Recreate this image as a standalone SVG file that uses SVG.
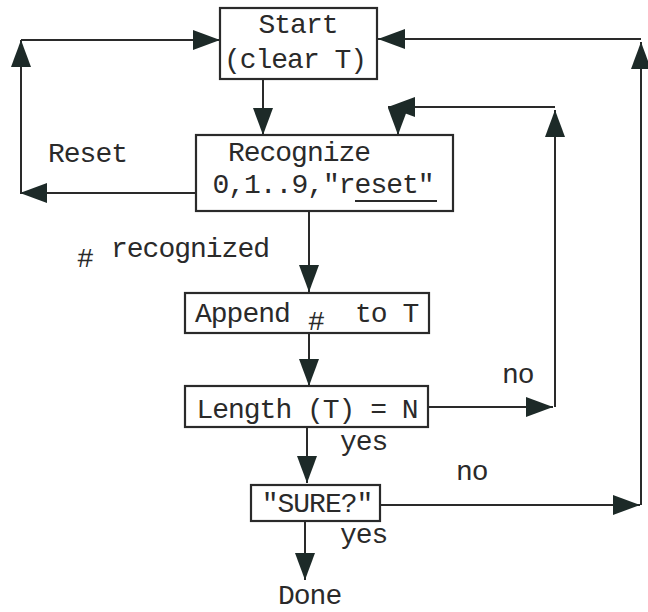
<svg xmlns="http://www.w3.org/2000/svg" width="648" height="612" viewBox="0 0 648 612">
<style>
.box{fill:#fff;stroke:#2a2a2a;stroke-width:2.2}
.t{font-family:"Liberation Mono","DejaVu Sans Mono",monospace;font-size:28px;letter-spacing:-1px;fill:#2a2a2a}
.c{fill:none;stroke:#2a2a2a;stroke-width:2}
</style>
<defs>
<marker id="ah" markerUnits="userSpaceOnUse" markerWidth="28" markerHeight="22" viewBox="0 0 28 22" refX="27" refY="11" orient="auto">
<path d="M0,1 L27,11 L0,21 Z" fill="#1d2a28"/>
</marker>
</defs>
<rect width="648" height="612" fill="#fff"/>
<g id="connectors">
<path class="c" d="M263,79 V135" marker-end="url(#ah)"/>
<path class="c" d="M309,211 V292" marker-end="url(#ah)"/>
<path class="c" d="M309,332 V386" marker-end="url(#ah)"/>
<path class="c" d="M307,427 V483" marker-end="url(#ah)"/>
<path class="c" d="M305,521 V580" marker-end="url(#ah)"/>
<path class="c" d="M196,193 H20" marker-end="url(#ah)"/>
<path class="c" d="M21,193 V40" marker-end="url(#ah)"/>
<path class="c" d="M21,40 H220" marker-end="url(#ah)"/>
<path class="c" d="M427,407 H553" marker-end="url(#ah)"/>
<path class="c" d="M555,407 V110" marker-end="url(#ah)"/>
<path class="c" d="M555,107 H388" marker-end="url(#ah)"/>
<path class="c" d="M398,110 V135" marker-end="url(#ah)"/>
<path class="c" d="M380,505 H640" marker-end="url(#ah)"/>
<path class="c" d="M641,505 V42" marker-end="url(#ah)"/>
<path class="c" d="M641,39 H378" marker-end="url(#ah)"/>
</g>
<g id="start">
<rect class="box" x="220" y="8" width="157" height="71"/>
<text class="t" x="298" y="33" text-anchor="middle">Start</text>
<text class="t" x="295" y="68" text-anchor="middle">(clear T)</text>
</g>
<g id="recognize">
<rect class="box" x="196" y="135" width="257" height="76"/>
<text class="t" x="299" y="161" text-anchor="middle">Recognize</text>
<text class="t" x="323" y="193" text-anchor="middle">0,1..9,"reset"</text>
<line x1="355" y1="201" x2="437" y2="201" stroke="#2a2a2a" stroke-width="2"/>
</g>
<g id="append">
<rect class="box" x="185" y="293" width="244" height="40"/>
<text class="t" x="195" y="322">Append<tspan x="308" dy="8">#</tspan><tspan x="355" dy="-8">to T</tspan></text>
</g>
<g id="length">
<rect class="box" x="185" y="386" width="243" height="41"/>
<text class="t" x="307" y="418" text-anchor="middle">Length (T) = N</text>
</g>
<g id="sure">
<rect class="box" x="251" y="485" width="129" height="36"/>
<text class="t" x="317" y="512" text-anchor="middle">"SURE?"</text>
</g>
<g id="labels">
<text class="t" x="48" y="162">Reset</text>
<text class="t" x="77" y="257"><tspan dy="10">#</tspan><tspan x="111" dy="-10">recognized</tspan></text>
<text class="t" x="340" y="450">yes</text>
<text class="t" x="340" y="543">yes</text>
<text class="t" x="502" y="383">no</text>
<text class="t" x="456" y="480">no</text>
<text class="t" x="278" y="604">Done</text>
</g>
</svg>
